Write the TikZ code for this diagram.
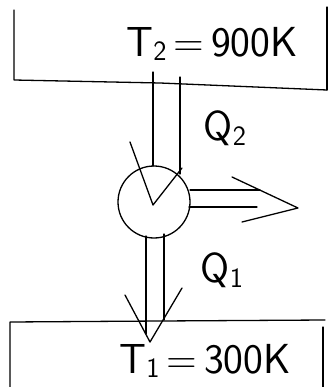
\documentclass[tikz,border=0pt]{standalone}
\begin{document}
\begin{tikzpicture}[x=1pt,y=-1pt,
  ink/.style={line width=1.3pt, line cap=round, line join=round},
  big/.style={inner sep=0pt, font=\sffamily\fontsize{42}{46}\selectfont},
  qlbl/.style={inner sep=0pt, font=\sffamily\fontsize{42}{46}\selectfont}]
\useasboundingbox (0,0) rectangle (328,387);
% top reservoir
\draw[ink] (14,10) -- (14,80) -- (160,83) -- (327,90);
\draw[ink] (327,7) -- (327,90);
\node[big] (thot) at (212,44) {T\raisebox{-0.25ex}{\fontsize{28}{30}\selectfont 2}\,=\,900K};
% engine
\node[circle, draw, ink, minimum size=72pt, inner sep=0pt] (eng) at (154,202) {};
% heat in
\draw[ink] (153,72) -- (153,166);
\draw[ink] (180,77) -- (180,174);
\draw[ink] (130,142) -- (153,205) -- (182,168);
\node[qlbl] (q2) at (225,128) {Q\raisebox{-0.3ex}{\fontsize{28}{30}\selectfont 2}};
% work out
\draw[ink] (190,190) -- (260,190);
\draw[ink] (189,207) -- (257,207);
\draw[ink] (232,177) -- (298,208) -- (242,222);
% heat out
\draw[ink] (146,236) -- (146,334);
\draw[ink] (164,234) -- (164,320);
\draw[ink] (125,295) -- (150,342) -- (182,288);
\node[qlbl] (q1) at (222,270) {Q\raisebox{-0.3ex}{\fontsize{28}{30}\selectfont 1}};
% bottom reservoir
\draw[ink] (10,387) -- (10,322) -- (160,321) -- (325,320);
\draw[ink] (323,327) -- (323,387);
\node[big] (tcold) at (205,361) {T\raisebox{-0.25ex}{\fontsize{28}{30}\selectfont 1}\,=\,300K};
\end{tikzpicture}
\end{document}
